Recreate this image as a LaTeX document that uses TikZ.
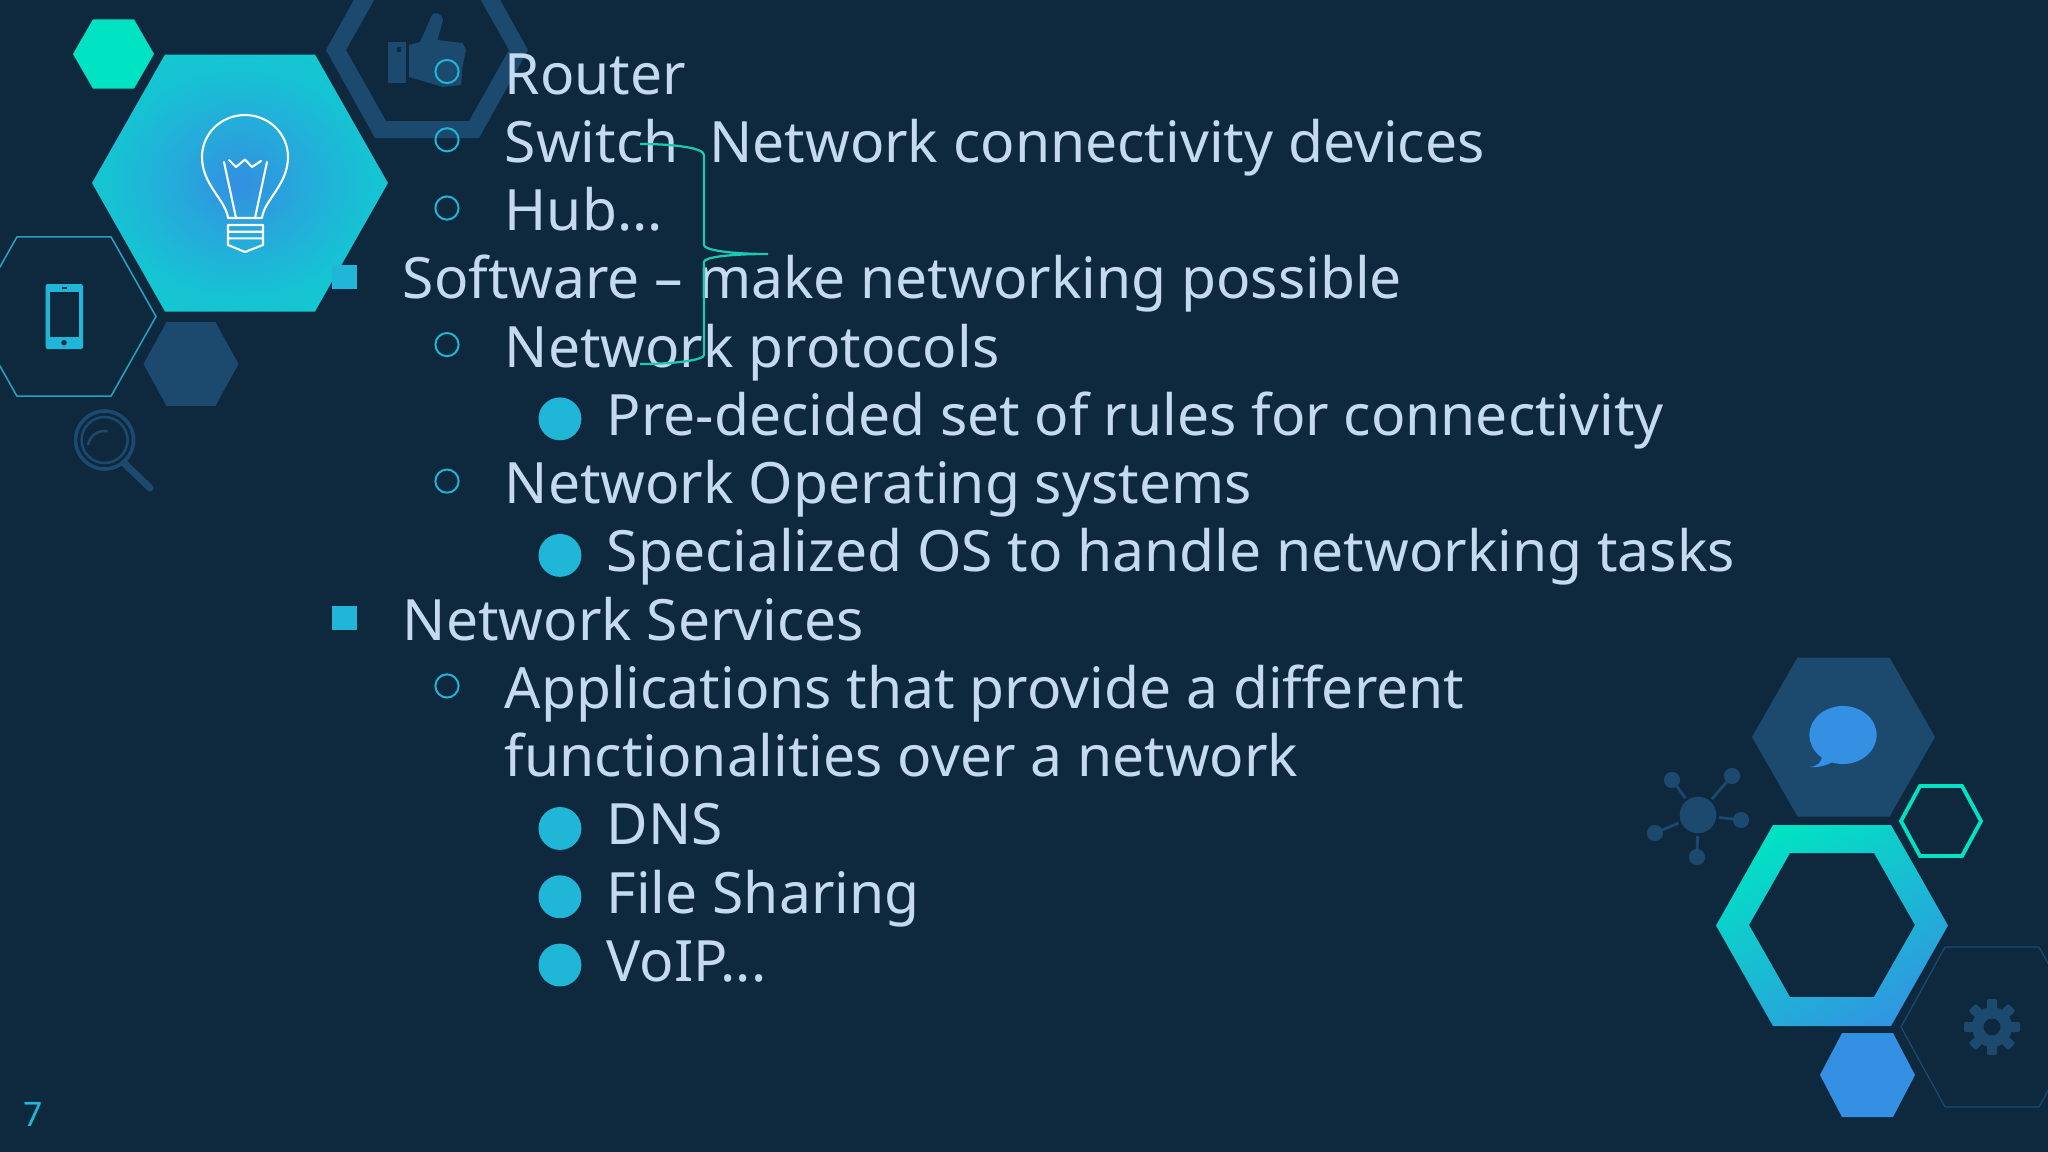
\documentclass[tikz,border=0pt]{standalone}
\usepackage{fontspec}
\setmainfont{Noto Sans}
\usetikzlibrary{positioning}
\definecolor{slidebg}{HTML}{0E283E}
\definecolor{hexdark}{HTML}{1B4A6E}
\definecolor{hexmint}{HTML}{00E3C3}
\definecolor{hexblue}{HTML}{3490E2}
\definecolor{hexcyan}{HTML}{1FB6D8}
\definecolor{hexline}{HTML}{2A9FC4}
\definecolor{bracemint}{HTML}{1CC9B2}
\definecolor{rowtext}{HTML}{C6DAEF}
\pgfdeclareradialshading{hexglow}{\pgfpoint{0bp}{0bp}}{rgb(0bp)=(0.20,0.56,0.88);rgb(10bp)=(0.15,0.66,0.86);rgb(22bp)=(0.09,0.76,0.83);rgb(35bp)=(0.06,0.81,0.80);rgb(50bp)=(0.05,0.84,0.78)}
\newcommand{\hexshape}[5]{({#1-#3},#2) -- ({#1-#4},{#2-#5}) -- ({#1+#4},{#2-#5}) -- ({#1+#3},#2) -- ({#1+#4},{#2+#5}) -- ({#1-#4},{#2+#5}) -- cycle}
\begin{document}
\begin{tikzpicture}[x=0.025cm,y=-0.025cm,node distance=48.55pt]
	\tikzstyle{row}=[anchor=base west,inner sep=0pt,text=rowtext,font=\fontsize{40.5}{47}\selectfont]
	\tikzstyle{ringbullet}=[circle,draw=hexcyan,line width=1.4pt,minimum size=16.5pt,inner sep=0pt]
	\tikzstyle{discbullet}=[circle,fill=hexcyan,minimum size=30.5pt,inner sep=0pt]
	\tikzstyle{squarebullet}=[rectangle,fill=hexcyan,minimum size=17.5pt,inner sep=0pt]
	\tikzstyle{netdot}=[circle,fill=hexdark,minimum size=11.5pt,inner sep=0pt,outer sep=0pt]
	\tikzstyle{nethub}=[circle,fill=hexdark,minimum size=26pt,inner sep=0pt,outer sep=2pt]
	\tikzstyle{icon}=[white,line width=1.5pt,line join=round,line cap=round]

	\useasboundingbox (0,0) rectangle (2048,1152);
	\fill[slidebg] (0,0) rectangle (2048,1152);

	\fill[hexmint] \hexshape{113.5}{54}{40.5}{20.5}{34.7};
	\path[even odd rule,fill=hexdark] \hexshape{427}{50}{101}{52}{88} \hexshape{427.5}{50}{81.5}{41.5}{71};
	\fill[hexdark] (387.5,41.7) rectangle (406,82.7);
	\fill[slidebg] (396.5,47) rectangle (400.5,52);
	\fill[hexdark] (409,45) -- (420,42) -- (432,15) .. controls (434,12) and (441,12) .. (443,20) -- (437.5,40) -- (462.5,43) -- (466,50) -- (462.5,67) -- (461,85) -- (443,87) -- (409,77) -- cycle;

	\shade[shading=hexglow] \hexshape{240}{183}{148}{75}{128.5};
	\draw[icon] (228,218) .. controls (226,200) and (202,185) .. (202,157) .. controls (202,133) and (222,115) .. (245,115) .. controls (268,115) and (288,133) .. (288,157) .. controls (288,185) and (264,200) .. (262,218) -- cycle;
	\draw[icon] (224,162) -- (236,218) (267,162) -- (255,218);
	\draw[icon] (229,160) -- (236,167) -- (245,159.5) -- (252,167) -- (261,161);
	\draw[icon] (228,225) -- (263,225) -- (263,245) -- (245,252) -- (228,245) -- cycle (228,231.7) -- (263,231.7) (228,238.3) -- (263,238.3);

	\draw[hexline,line width=1.1pt] \hexshape{64}{316.5}{92}{47}{79.7};
	\fill[hexcyan,rounded corners=1.5pt] (45.7,284) rectangle (83,349);
	\fill[slidebg] (49.6,292.3) rectangle (78.6,337.3);
	\fill[slidebg] (61.5,287) rectangle (66.5,289);
	\fill[slidebg] (64,342.7) circle [radius=2.7];

	\fill[hexdark] \hexshape{191}{364}{47.5}{24.5}{41.8};
	\draw[hexdark,line width=2.6pt] (104.6,440) circle [radius=29];
	\draw[hexdark,line width=1.8pt] (104.6,440) circle [radius=23];
	\draw[hexdark,line width=1.8pt] (88,445) arc [start angle=190,end angle=280,radius=17];
	\draw[hexdark,line width=5pt,line cap=round] (124,463) -- (150,488);

	\fill[hexdark] \hexshape{1843.5}{737}{91.5}{46}{79.5};
	\fill[hexblue] (1843,735) ellipse [x radius=33.6,y radius=29];
	\fill[hexblue] (1822,755) .. controls (1822,762) and (1818,766) .. (1810,767) .. controls (1820,768) and (1830,764) .. (1836,760) -- cycle;

	\draw[hexmint,line width=2.7pt] \hexshape{1941}{821}{40}{21}{35};
	\shade[even odd rule,top color=hexmint!95!hexcyan,bottom color=hexblue!80!hexcyan,shading angle=30] \hexshape{1832}{925.5}{116}{59}{100.5} \hexshape{1832}{925}{83}{42}{72};
	\fill[hexblue] \hexshape{1867.5}{1075}{47.5}{25.5}{42};
	\draw[hexdark,line width=0.9pt] \hexshape{1992}{1027}{91}{47}{80};

	\fill[hexdark] (1992,1027) circle [radius=20];
	\foreach \geartooth in {0,45,...,315}
		\fill[hexdark,rounded corners=1pt,rotate around={\geartooth:(1992,1027)}] (1987,999) rectangle (1997,1012);
	\fill[slidebg] (1992,1027) circle [radius=8.5];

	\node[nethub] (Hub0) at (1698,815) {};
	\node[netdot] (Sat1) at (1672,780) {};
	\node[netdot] (Sat2) at (1732,776) {};
	\node[netdot] (Sat3) at (1741,820) {};
	\node[netdot] (Sat4) at (1697,857) {};
	\node[netdot] (Sat5) at (1655,833) {};
	\path[hexdark,line width=2pt] (Hub0) edge (Sat1);
	\path[hexdark,line width=2pt] (Hub0) edge (Sat2);
	\path[hexdark,line width=2pt] (Hub0) edge (Sat3);
	\path[hexdark,line width=2pt] (Hub0) edge (Sat4);
	\path[hexdark,line width=2pt] (Hub0) edge (Sat5);

	\node[row] (Router) at (504.5,94) {Router};
	\node[row] (Switch) [below=of Router.base west,anchor=base west] {Switch};
	\node[row] (Hub) [below=of Switch.base west,anchor=base west] {Hub...};
	\node[row] (Software) [below=of Hub.base west,anchor=base west,xshift=-72.5pt] {Software -- make networking possible};
	\node[row] (NetProt) [below=of Software.base west,anchor=base west,xshift=72.5pt] {Network protocols};
	\node[row] (PreDec) [below=of NetProt.base west,anchor=base west,xshift=72.5pt] {Pre-decided set of rules for connectivity};
	\node[row] (NetOS) [below=of PreDec.base west,anchor=base west,xshift=-72.5pt] {Network Operating systems};
	\node[row] (SpecOS) [below=of NetOS.base west,anchor=base west,xshift=72.5pt] {Specialized OS to handle networking tasks};
	\node[row] (NetSvc) [below=of SpecOS.base west,anchor=base west,xshift=-145pt] {Network Services};
	\node[row] (Apps) [below=of NetSvc.base west,anchor=base west,xshift=72.5pt] {Applications that provide a different};
	\node[row] (Funcs) [below=of Apps.base west,anchor=base west] {functionalities over a network};
	\node[row] (DNS) [below=of Funcs.base west,anchor=base west,xshift=72.5pt] {DNS};
	\node[row] (FileSh) [below=of DNS.base west,anchor=base west] {File Sharing};
	\node[row] (VoIP) [below=of FileSh.base west,anchor=base west] {VoIP...};
	\node[row] (Devices) at (709,162.5) {Network connectivity devices};

	\foreach \rowname in {Router,Switch,Hub,NetProt,NetOS,Apps}
		\node[ringbullet] (\rowname Mark) at ([shift={(-57.5,-22.5)}]\rowname.base west) {};
	\foreach \rowname in {PreDec,SpecOS,DNS,FileSh,VoIP}
		\node[discbullet] (\rowname Mark) at ([shift={(-46.5,-16.5)}]\rowname.base west) {};
	\foreach \rowname in {Software,NetSvc}
		\node[squarebullet] (\rowname Mark) at ([shift={(-58,-22)}]\rowname.base west) {};

	\draw[bracemint,line width=1.6pt] (640,144) .. controls (675,144) and (704,148) .. (704,155) -- (704,245) .. controls (704,250) and (730,254) .. (768,254) .. controls (730,254) and (704,257) .. (704,262) -- (704,355) .. controls (704,360) and (675,364) .. (640,364);

	\node[anchor=base west,inner sep=0pt,text=hexcyan,font=\fontsize{24}{28}\selectfont] (PageNo) at (23,1126) {7};
\end{tikzpicture}
\end{document}
